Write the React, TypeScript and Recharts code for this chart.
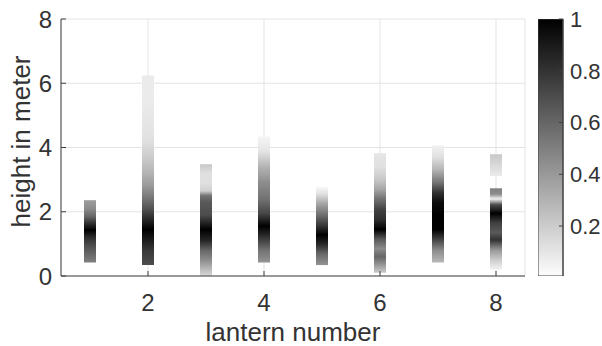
import React from 'react';
import { ComposedChart, Bar, Cell, XAxis, YAxis, CartesianGrid } from 'recharts';

// lantern numbers and the vertical extent of each measured column (m)
const lanterns = [1, 2, 3, 4, 5, 6, 7, 8];
const bottoms = [0.42, 0.34, 0.0, 0.42, 0.34, 0.1, 0.42, 0.2];
const tops = [2.36, 6.24, 3.48, 4.34, 2.78, 3.82, 4.06, 2.73];
// detached upper block (only lantern 8 has one)
const capBottoms = [0, 0, 0, 0, 0, 0, 0, 3.11];
const capTops = [0, 0, 0, 0, 0, 0, 0, 3.79];

// normalised intensity along each column: [height, value]
const profile1 = [[2.36, 0.38], [2.1, 0.45], [1.85, 0.6], [1.65, 0.8], [1.43, 1.0], [1.2, 0.82], [0.95, 0.7], [0.7, 0.6], [0.42, 0.5]];
const profile2 = [[6.24, 0.08], [5.5, 0.08], [4.8, 0.1], [4.2, 0.12], [3.7, 0.2], [3.2, 0.3], [2.8, 0.4], [2.4, 0.55], [2.05, 0.7], [1.75, 0.85], [1.45, 1.0], [1.15, 0.9], [0.8, 0.78], [0.34, 0.7]];
const profile3 = [[3.48, 0.22], [3.2, 0.12], [2.9, 0.12], [2.65, 0.18], [2.5, 0.55], [2.3, 0.65], [1.9, 0.7], [1.45, 1.0], [1.1, 0.85], [0.8, 0.6], [0.5, 0.45], [0.25, 0.3], [0.0, 0.15]];
const profile4 = [[4.34, 0.04], [3.9, 0.1], [3.4, 0.3], [2.9, 0.45], [2.4, 0.55], [1.95, 0.72], [1.55, 1.0], [1.2, 0.8], [0.8, 0.55], [0.42, 0.42]];
const profile5 = [[2.78, 0.02], [2.55, 0.12], [2.25, 0.35], [1.85, 0.6], [1.55, 0.8], [1.28, 1.0], [1.0, 0.85], [0.7, 0.6], [0.34, 0.42]];
const profile6 = [[3.82, 0.1], [3.4, 0.12], [3.0, 0.22], [2.7, 0.35], [2.4, 0.55], [2.05, 0.75], [1.75, 0.82], [1.45, 1.0], [1.15, 0.65], [0.85, 0.45], [0.6, 0.6], [0.4, 0.45], [0.1, 0.2]];
const profile7 = [[4.06, 0.05], [3.7, 0.12], [3.3, 0.3], [2.9, 0.55], [2.6, 0.8], [2.3, 0.95], [1.9, 1.0], [1.45, 1.0], [1.15, 0.75], [0.8, 0.45], [0.42, 0.28]];
const profile8 = [[2.73, 0.5], [2.55, 0.45], [2.4, 0.05], [2.22, 0.7], [1.95, 1.0], [1.65, 0.75], [1.35, 0.65], [1.12, 0.8], [0.8, 0.4], [0.5, 0.2], [0.2, 0.05]];
const capProfile8 = [[3.79, 0.22], [3.45, 0.15], [3.11, 0.08]];

const profiles = [profile1, profile2, profile3, profile4, profile5, profile6, profile7, profile8];
const capProfiles = [[], [], [], [], [], [], [], capProfile8];

const xTicks = [2, 4, 6, 8];
const yTicks = [0, 2, 4, 6, 8];
const colorTicks = [0.2, 0.4, 0.6, 0.8, 1];
const colorMin = 0.007;
const colorMax = 1;

const FONT = '"Liberation Sans", Arial, sans-serif';
const TEXT = '#333333';
const AXIS = '#404040';

// flipped gray colormap: 1 -> black, 0 -> white
const gray = (v: number) => {
  const g = Math.round(255 * (1 - Math.max(0, Math.min(1, v))));
  return `rgb(${g},${g},${g})`;
};

const rows = lanterns.map((l, i) => ({
  lantern: l,
  base: bottoms[i],
  body: tops[i] - bottoms[i],
  gap: capTops[i] > 0 ? capBottoms[i] - tops[i] : 0,
  cap: capTops[i] > 0 ? capTops[i] - capBottoms[i] : 0,
}));

const gradient = (id: string, top: number, bottom: number, pts: number[][]) => (
  <linearGradient key={id} id={id} x1="0" y1="0" x2="0" y2="1">
    {pts.map(([h, v], j) => (
      <stop key={j} offset={(top - h) / (top - bottom)} stopColor={gray(v)} />
    ))}
  </linearGradient>
);

export default function App() {
  return (
    <div style={{ position: 'absolute', left: 0, top: 0, width: 602, height: 346, background: '#fff', fontFamily: FONT }}>
      <div style={{ position: 'absolute', left: 0, top: 0 }}>
        <ComposedChart width={602} height={346} data={rows} margin={{ top: 19, right: 77, bottom: 0, left: 0 }}>
          <defs>
            {lanterns.map((l, i) => gradient(`body-${l}`, tops[i], bottoms[i], profiles[i]))}
            {lanterns.map((l, i) =>
              capProfiles[i].length ? gradient(`cap-${l}`, capTops[i], capBottoms[i], capProfiles[i]) : null
            )}
          </defs>
          <CartesianGrid stroke="#e3e3e3" strokeWidth={1} />
          <XAxis
            type="number"
            dataKey="lantern"
            domain={[0.5, 8.5]}
            ticks={xTicks}
            allowDataOverflow
            height={70}
            tickSize={-5}
            tickMargin={23}
            stroke={AXIS}
            tick={{ fill: TEXT, fontSize: 24, fontFamily: FONT }}
            label={{ value: 'lantern number', position: 'insideBottom', offset: 5, fill: TEXT, fontSize: 26, fontFamily: FONT }}
          />
          <YAxis
            type="number"
            domain={[0, 8]}
            ticks={yTicks}
            allowDataOverflow
            width={61}
            tickSize={-5}
            tickMargin={14}
            stroke={AXIS}
            tick={{ fill: TEXT, fontSize: 24, fontFamily: FONT }}
            label={{ value: 'height in meter', angle: -90, position: 'center', dx: -10, dy: -6, fill: TEXT, fontSize: 26, fontFamily: FONT }}
          />
          <Bar dataKey="base" stackId="s" fill="none" barSize={12} isAnimationActive={false} />
          <Bar dataKey="body" stackId="s" barSize={12} isAnimationActive={false}>
            {lanterns.map((l) => (
              <Cell key={l} fill={`url(#body-${l})`} />
            ))}
          </Bar>
          <Bar dataKey="gap" stackId="s" fill="none" barSize={12} isAnimationActive={false} />
          <Bar dataKey="cap" stackId="s" barSize={12} isAnimationActive={false}>
            {lanterns.map((l, i) => (
              <Cell key={l} fill={capProfiles[i].length ? `url(#cap-${l})` : 'none'} />
            ))}
          </Bar>
        </ComposedChart>
      </div>
      <div style={{ position: 'absolute', left: 538, top: 0 }}>
        <ComposedChart
          width={64}
          height={346}
          data={[{ name: 'scale', range: [colorMin, colorMax] }]}
          margin={{ top: 19, right: 0, bottom: 70, left: 0 }}
          barCategoryGap={0}
        >
          <defs>
            <linearGradient id="colorbar" x1="0" y1="0" x2="0" y2="1">
              <stop offset={0} stopColor={gray(colorMax)} />
              <stop offset={1} stopColor={gray(colorMin)} />
            </linearGradient>
          </defs>
          <XAxis type="category" dataKey="name" hide />
          <YAxis
            orientation="right"
            type="number"
            domain={[colorMin, colorMax]}
            ticks={colorTicks}
            allowDataOverflow
            width={39}
            tickSize={-4}
            tickMargin={11}
            stroke={AXIS}
            tick={{ fill: TEXT, fontSize: 22, fontFamily: FONT, textAnchor: 'start' }}
          />
          <Bar dataKey="range" fill="url(#colorbar)" stroke={AXIS} strokeWidth={1} isAnimationActive={false} />
        </ComposedChart>
      </div>
    </div>
  );
}
